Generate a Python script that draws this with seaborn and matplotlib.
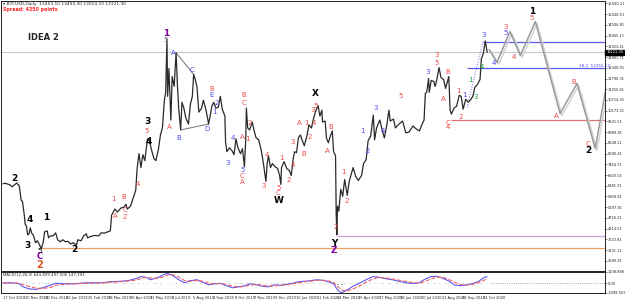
import matplotlib
matplotlib.use("Agg")
import matplotlib.pyplot as plt
import matplotlib.patheffects as pe
import matplotlib.transforms as mtrans
import pandas as pd
import seaborn as sns

sns.set_style("white")
plt.rcParams['font.family'] = ['DejaVu Sans']

start = pd.Timestamp('2018-10-17')

# BTCUSD daily, closes
price_dates = [
    '2018-10-17', '2018-10-20', '2018-10-24', '2018-10-28', '2018-10-31', '2018-11-03', '2018-11-07',
    '2018-11-11', '2018-11-14', '2018-11-16', '2018-11-19', '2018-11-20', '2018-11-22', '2018-11-24',
    '2018-11-26', '2018-11-28', '2018-11-30', '2018-12-03', '2018-12-06', '2018-12-09', '2018-12-12',
    '2018-12-15', '2018-12-18', '2018-12-20', '2018-12-24', '2018-12-26', '2018-12-29', '2019-01-02',
    '2019-01-06', '2019-01-09', '2019-01-13', '2019-01-17', '2019-01-21', '2019-01-25', '2019-01-29',
    '2019-02-02', '2019-02-07', '2019-02-09', '2019-02-14', '2019-02-18', '2019-02-22', '2019-02-24',
    '2019-03-01', '2019-03-07', '2019-03-13', '2019-03-17', '2019-03-22', '2019-03-27', '2019-03-31',
    '2019-04-02', '2019-04-07', '2019-04-11', '2019-04-16', '2019-04-21', '2019-04-24', '2019-04-26',
    '2019-05-01', '2019-05-05', '2019-05-09', '2019-05-11', '2019-05-14', '2019-05-17', '2019-05-20',
    '2019-05-23', '2019-05-27', '2019-05-30', '2019-06-03', '2019-06-06', '2019-06-09', '2019-06-13',
    '2019-06-16', '2019-06-19', '2019-06-22', '2019-06-24', '2019-06-26', '2019-06-27', '2019-06-29',
    '2019-07-02', '2019-07-04', '2019-07-07', '2019-07-10', '2019-07-12', '2019-07-14', '2019-07-17',
    '2019-07-19', '2019-07-22', '2019-07-25', '2019-07-29', '2019-08-01', '2019-08-04', '2019-08-06',
    '2019-08-08', '2019-08-11', '2019-08-14', '2019-08-18', '2019-08-21', '2019-08-25', '2019-08-29',
    '2019-09-03', '2019-09-06', '2019-09-09', '2019-09-13', '2019-09-16', '2019-09-19', '2019-09-23',
    '2019-09-24', '2019-09-26', '2019-09-30', '2019-10-04', '2019-10-07', '2019-10-10', '2019-10-13',
    '2019-10-17', '2019-10-20', '2019-10-23', '2019-10-25', '2019-10-26', '2019-10-28', '2019-10-31',
    '2019-11-04', '2019-11-07', '2019-11-10', '2019-11-14', '2019-11-18', '2019-11-21', '2019-11-25',
    '2019-11-27', '2019-11-29', '2019-12-02', '2019-12-05', '2019-12-09', '2019-12-13', '2019-12-16',
    '2019-12-18', '2019-12-19', '2019-12-23', '2019-12-27', '2019-12-31', '2020-01-03', '2020-01-06',
    '2020-01-08', '2020-01-11', '2020-01-14', '2020-01-17', '2020-01-20', '2020-01-23', '2020-01-27',
    '2020-01-30', '2020-02-03', '2020-02-06', '2020-02-09', '2020-02-13', '2020-02-16', '2020-02-19',
    '2020-02-20', '2020-02-24', '2020-02-26', '2020-02-29', '2020-03-03', '2020-03-06', '2020-03-08',
    '2020-03-11', '2020-03-12', '2020-03-13', '2020-03-14', '2020-03-16', '2020-03-19', '2020-03-22',
    '2020-03-25', '2020-03-29', '2020-04-01', '2020-04-07', '2020-04-11', '2020-04-15', '2020-04-20',
    '2020-04-23', '2020-04-27', '2020-04-30', '2020-05-04', '2020-05-08', '2020-05-10', '2020-05-13',
    '2020-05-18', '2020-05-22', '2020-05-25', '2020-05-29', '2020-06-01', '2020-06-03', '2020-06-08',
    '2020-06-11', '2020-06-15', '2020-06-22', '2020-06-27', '2020-07-02', '2020-07-08', '2020-07-13',
    '2020-07-18', '2020-07-22', '2020-07-25', '2020-07-27', '2020-07-29', '2020-08-01', '2020-08-02',
    '2020-08-05', '2020-08-09', '2020-08-11', '2020-08-14', '2020-08-17', '2020-08-20', '2020-08-24',
    '2020-08-27', '2020-09-01', '2020-09-03', '2020-09-05', '2020-09-09', '2020-09-13', '2020-09-17',
    '2020-09-20', '2020-09-23', '2020-09-27', '2020-10-01', '2020-10-05', '2020-10-08', '2020-10-11',
    '2020-10-15', '2020-10-19', '2020-10-21', '2020-10-24', '2020-10-27', '2020-10-30']
price_close = [
    6480, 6510, 6470, 6420, 6330, 6400, 6520,
    6380, 5650, 5580, 4850, 4450, 4350, 3900,
    3950, 4250, 4000, 3850, 3500, 3600, 3400,
    3200, 3550, 4050, 4100, 3750, 3850, 3850,
    4000, 3650, 3550, 3650, 3550, 3570, 3440,
    3500, 3380, 3650, 3600, 3850, 3950, 3750,
    3820, 3870, 3850, 4000, 3990, 4050, 4100,
    4900, 5200, 5050, 5250, 5300, 5450, 5200,
    5350, 5750, 6150, 7200, 8000, 7300, 7950,
    7650, 8750, 8650, 8100, 7750, 7650, 8250,
    8950, 9300, 10700, 11100, 13800, 10900, 12300,
    9700, 11900, 11400, 13100, 11500, 10300, 9200,
    10600, 10300, 9800, 9500, 10500, 10900, 12000,
    11800, 11400, 10100, 10300, 10700, 10200, 9500,
    10400, 10600, 10300, 10350, 10900, 10250, 9900,
    8600, 8100, 8300, 8150, 7950, 8750, 8300,
    8000, 8250, 7350, 8700, 10300, 9300, 9200,
    9600, 9150, 8800, 8700, 8150, 7550, 6600,
    7500, 7900, 7300, 7500, 7350, 7250, 6900,
    6450, 7300, 7600, 7250, 7150, 6900, 7750,
    8100, 8050, 8800, 8950, 8650, 8400, 8900,
    9450, 9300, 9750, 10100, 10450, 9900, 10200,
    9600, 9650, 8800, 8550, 8900, 9150, 8100,
    7900, 4950, 3900, 5350, 5100, 6200, 5850,
    6700, 5900, 6600, 7300, 6850, 6650, 6900,
    7500, 7700, 8650, 8900, 9950, 8700, 9300,
    9700, 9150, 8800, 9500, 10200, 9650, 9750,
    9300, 9450, 9650, 9050, 9100, 9400, 9250,
    9150, 9500, 9700, 11050, 11100, 11800, 11100,
    11700, 11650, 11400, 11800, 12350, 11850, 11750,
    11300, 11900, 10200, 10000, 10300, 10400, 10950,
    10900, 10250, 10750, 10600, 10750, 10900, 11350,
    11500, 11750, 12800, 13050, 13700, 13121.30]

# projected wave path (grey arrows)
proj_dates = ['2020-11-02', '2020-11-14', '2020-12-04', '2020-12-20', '2021-01-12',
              '2021-02-19', '2021-03-17', '2021-04-14', '2021-05-21']
proj_price = [13265, 12608, 14175, 12962, 14680, 10031, 11547, 8263, 15084]

# triangle lines A-C and B-D, blue dotted channel
tri_ac_dates = ['2019-07-10', '2019-08-06']
tri_ac_price = [13100, 12000]
tri_bd_dates = ['2019-07-17', '2019-08-29']
tri_bd_price = [9200, 9500]
chan_dates = ['2020-09-29', '2020-10-24']
chan_price = [10334, 13720]

# horizontal levels: (start date, price, colour)
levels = [('2018-12-14', 3210, '#f0a060'),
          ('2020-03-13', 3866, '#c8a0e0'),
          ('2020-10-24', 13669, '#5a5af0'),
          ('2020-09-29', 12355, '#5a5af0'),
          ('2020-09-05', 9728, '#e07070')]
bid_price = 13121.30

# wave labels: (day offset from start, price, text, colour, size)
wave_labels = [
    (18, 6750, '2', 'k', 6.5), (41, 4675, '4', 'k', 6.5), (37, 3361, '3', 'k', 6.5),
    (66, 4776, '1', 'k', 6.5), (109, 3159, '2', 'k', 6.5), (222, 9650, '3', 'k', 6.5),
    (224, 8616, '4', 'k', 6.5), (480, 11042, 'X', 'k', 6.5), (423, 5650, 'W', 'k', 6.5),
    (509, 3462, 'Y', 'k', 6.5), (813, 15185, '1', 'k', 6.5), (899, 8161, '2', 'k', 6.5),
    (250, 14074, '1', '#8000a0', 6.5), (57, 2800, 'C', '#8000a0', 6), (509, 3108, 'Z', '#8000a0', 6.5),
    (57, 2360, '2', '#e05020', 7), (57, 3060, '5', 'k', 5), (250, 13770, '5', '#808080', 5),
    (221, 9150, '5', 'r', 5), (170, 5686, '1', 'r', 5), (173, 4877, 'A', 'r', 5),
    (186, 5837, 'B', 'r', 5), (187, 5130, 'C', 'r', 5), (187, 4826, '2', 'r', 5),
    (207, 6494, '4', 'r', 5), (255, 9374, 'A', 'r', 5), (321, 11294, 'B', 'r', 5),
    (370, 10941, 'B', 'r', 5), (370, 10587, 'C', 'r', 5), (368, 6898, 'C', 'r', 5),
    (368, 6595, 'A', 'r', 5), (368, 8869, 'A', 'r', 5), (376, 8768, '1', 'r', 5),
    (379, 9576, '2', 'r', 5), (400, 6343, '3', 'r', 5), (405, 7959, '4', 'r', 5),
    (423, 6292, '5', 'r', 5), (423, 6039, 'C', 'r', 5), (428, 7808, '1', 'r', 5),
    (439, 6696, '2', 'r', 5), (445, 8566, '3', 'r', 5), (446, 7454, '4', 'r', 5),
    (456, 9526, 'A', 'r', 5), (462, 8010, 'B', 'r', 5), (466, 9576, '1', 'r', 5),
    (471, 8869, '2', 'r', 5), (476, 10183, '3', 'r', 5), (477, 9526, '4', 'r', 5),
    (480, 10435, '5', 'r', 5), (499, 8161, 'A', 'r', 5), (503, 9324, 'B', 'r', 5),
    (512, 4321, '2', 'r', 5), (523, 7100, '1', 'r', 5), (528, 5635, '2', 'r', 5),
    (667, 12962, '3', 'r', 5), (667, 12608, '5', 'r', 5), (683, 12103, 'B', 'r', 5),
    (677, 10789, 'A', 'r', 5), (684, 9576, 'C', 'r', 5), (684, 9324, '4', 'r', 5),
    (700, 11193, '1', 'r', 5), (704, 9879, '2', 'r', 5), (773, 14377, '3', 'r', 5),
    (785, 12911, '4', 'r', 5), (813, 14882, '5', 'r', 5), (850, 9930, 'A', 'r', 5),
    (877, 11598, 'B', 'r', 5), (899, 8465, 'C', 'r', 5),
    (262, 13113, 'A', 'b', 5), (270, 8818, 'B', 'b', 5), (291, 12254, 'C', 'b', 5),
    (314, 9223, 'D', 'b', 5), (321, 10941, 'E', 'b', 5), (325, 10132, '1', 'b', 5),
    (328, 10537, '2', 'b', 5), (345, 7555, '3', 'b', 5), (354, 8818, '4', 'b', 5),
    (368, 7201, '5', 'b', 5), (652, 12103, '3', 'b', 5), (709, 10991, '1', 'b', 5),
    (739, 13973, '3', 'b', 5), (755, 12558, '4', 'b', 5), (773, 14124, '5', 'b', 5),
    (552, 9122, '1', 'b', 5), (560, 8161, '2', 'b', 5), (572, 10284, '3', 'b', 5),
    (583, 9172, '4', 'b', 5), (611, 10900, '5', 'r', 5),
    (718, 11699, '1', 'g', 5), (727, 10890, '3', 'g', 5), (736, 12406, '4', 'g', 5)]
label_colors = {'k': 'black', 'r': '#f04848', 'b': '#4a4af0', 'g': '#20a040'}

# MACD panel, values
macd_days = [0, 12, 25, 31, 40, 51, 61, 74, 81, 97, 112, 127, 150, 166, 181, 192, 204, 212, 219, 227,
             238, 247, 253, 261, 270, 279, 288, 298, 307, 316, 325, 334, 344, 353, 362, 371, 380, 390, 399, 408,
             417, 426, 436, 445, 454, 463, 473, 482, 491, 500, 508, 514, 520, 529, 539, 549, 558, 568, 577, 588,
             598, 611, 626, 638, 647, 657, 666, 675, 684, 693, 703, 712, 721, 730, 739, 744]
macd_main = [30, 60, -40, -360, -580, -630, -470, -150, 0, -40, -40, 60, 60, 170, 220, 280, 490, 700, 650, 380,
             600, 920, 1030, 810, 380, 60, 280, 380, 110, -150, -40, 0, -260, -470, -360, -260, -40, -150, -310, -360,
             -150, -210, -100, 0, 170, 220, 280, 380, 320, 170, -40, -680, -1000, -680, -260, 60, 380, 700, 650, 490,
             380, 170, 0, 0, 380, 700, 750, 540, 280, -150, -260, -150, -40, 170, 600, 700]
macd_signal = [20, 40, 20, -120, -330, -500, -540, -400, -200, -80, -40, 0, 40, 110, 180, 240, 330, 500, 620, 560,
               520, 700, 880, 900, 650, 300, 200, 300, 220, 20, -60, -20, -110, -300, -380, -320, -180, -120, -200, -300,
               -260, -220, -160, -60, 60, 160, 230, 310, 330, 250, 110, -300, -700, -800, -560, -220, 120, 450, 620, 580,
               460, 300, 120, 20, 150, 450, 650, 640, 450, 120, -120, -180, -110, 50, 320, 480]
macd_hist = [5, 10, -25, -95, -100, -55, 30, 100, 80, 15, 0, 25, 10, 25, 15, 15, 65, 80, 10, -70,
             30, 90, 60, -35, -110, -95, 30, 30, -45, -70, 10, 10, -60, -70, 10, 25, 55, -10, -45, -25,
             45, 5, 25, 25, 45, 25, 20, 30, 0, -35, -60, -150, -120, 50, 120, 110, 100, 100, 10, -35,
             -30, -50, -50, -10, 90, 100, 40, -40, -70, -110, -55, 10, 30, 50, 110, 90]

date_ticks = ['2018-10-17', '2018-11-20', '2018-12-20', '2019-01-22', '2019-02-25', '2019-03-28',
              '2019-04-30', '2019-05-31', '2019-07-03', '2019-08-05', '2019-09-04', '2019-10-08',
              '2019-11-07', '2019-12-09', '2020-01-10', '2020-02-11', '2020-03-14', '2020-04-15',
              '2020-05-17', '2020-06-18', '2020-07-20', '2020-08-21', '2020-09-22', '2020-10-24']
price_ticks = [2589.41 + 541.70 * k for k in range(25)]
macd_ticks = [-1008.503, 0.0, 1238.888]

# figure: main chart + MACD strip, price scale on the right
fig = plt.figure(figsize=(6.25, 3.01), dpi=100)
ax = fig.add_axes([0.0016, 30 / 301, 604 / 625, 270.5 / 301])
mx = fig.add_axes([0.0016, 8 / 301, 604 / 625, 21.5 / 301], sharex=ax)

xmin, xmax = pd.Timestamp('2018-10-14'), pd.Timestamp('2021-04-29')

for lv_start, lv_price, lv_col in levels:
    ax.hlines(lv_price, pd.Timestamp(lv_start), xmax, color=lv_col, lw=0.9, zorder=1)
ax.axhline(bid_price, color='#c8c8c8', lw=0.8, zorder=1)

df = pd.DataFrame({'date': pd.to_datetime(price_dates), 'close': price_close})
sns.lineplot(data=df, x='date', y='close', ax=ax, color='#2a2a2a', lw=0.9,
             sort=False, estimator=None, zorder=3)

pj = pd.DataFrame({'date': pd.to_datetime(proj_dates), 'price': proj_price})
sns.lineplot(data=pj, x='date', y='price', ax=ax, color='#9a9a9a', lw=1.1,
             sort=False, estimator=None, zorder=3)
ax.lines[-1].set_path_effects([pe.SimpleLineShadow(offset=(1.3, -1.3), shadow_color='#d4d4d4', alpha=1),
                               pe.Normal()])

ax.plot(pd.to_datetime(tri_ac_dates), tri_ac_price, color='#707070', lw=0.7, zorder=2)
ax.plot(pd.to_datetime(tri_bd_dates), tri_bd_price, color='#707070', lw=0.7, zorder=2)
ax.plot(pd.to_datetime(chan_dates), chan_price, color='#6a6af0', lw=0.7, ls=':', zorder=2)

for d, p, txt, col, fs in wave_labels:
    ax.text(start + pd.Timedelta(days=d), p, txt, color=label_colors.get(col, col), fontsize=fs,
            ha='center', va='center', fontweight='bold' if fs > 5.5 else 'normal', zorder=4)

ax.text(pd.Timestamp('2021-03-20'), 12420, '38.2  12355.57', color='#4a4af0', fontsize=3.0,
        ha='left', va='center', zorder=4)
ax.text(0.045, 0.865, 'IDEA 2', transform=ax.transAxes, fontsize=6, fontweight='bold', va='center')
ax.text(0.004, 0.995, '\u25be BTCUSD,Daily  13453.10 13493.30 13014.10 13121.30', transform=ax.transAxes,
        fontsize=3.2, va='top')
ax.text(0.004, 0.975, 'Spread: 4250 points', transform=ax.transAxes, fontsize=3.4,
        color='#ff2020', fontweight='bold', va='top')

ax.set_ylim(2073, 15741)
ax.set_xlim(xmin, xmax)
ax.set_xlabel('')
ax.set_ylabel('')
ax.yaxis.tick_right()
ax.set_yticks(price_ticks)
ax.set_yticklabels([f'{t:.2f}' for t in price_ticks])
ax.tick_params(axis='y', labelsize=2.6, length=1.5, width=0.4, pad=0.6, direction='out')
ax.tick_params(axis='x', labelbottom=False, length=0)
trans = mtrans.blended_transform_factory(ax.transAxes, ax.transData)
ax.text(1.002, bid_price, f'{bid_price:.2f}', transform=trans, fontsize=2.6, color='white', va='center',
        ha='left', bbox=dict(boxstyle='square,pad=0.2', fc='black', ec='black'), zorder=5)

# MACD
md = pd.DataFrame({'date': [start + pd.Timedelta(days=d) for d in macd_days],
                   'main': macd_main, 'signal': macd_signal, 'hist': macd_hist})
mx.axhline(0, color='#909090', lw=0.6, ls=':')
mx.bar(md['date'], md['hist'], width=5, color='#108010', zorder=2)
sns.lineplot(data=md, x='date', y='main', ax=mx, color='#5a5af5', lw=0.8, sort=False, estimator=None, zorder=3)
sns.lineplot(data=md, x='date', y='signal', ax=mx, color='#f06060', lw=0.8, ls='--', sort=False,
             estimator=None, zorder=3)
mx.text(0.004, 0.93, 'MACD(12,26,9) 644.899 497.506 147.393', transform=mx.transAxes, fontsize=2.8, va='top')
mx.set_ylim(-1008.503, 1238.888)
mx.set_xlim(xmin, xmax)
mx.set_xlabel('')
mx.set_ylabel('')
mx.yaxis.tick_right()
mx.set_yticks(macd_ticks)
mx.set_yticklabels(['-1008.503', '0.00', '1238.888'])
mx.tick_params(axis='y', labelsize=2.6, length=1.5, width=0.4, pad=0.6)
tick_dates = pd.to_datetime(date_ticks)
mx.set_xticks(tick_dates)
mx.set_xticklabels([f'{t.day} {t:%b %Y}' for t in tick_dates], ha='left')
mx.tick_params(axis='x', labelsize=2.6, length=1.5, width=0.4, pad=0.8)

for a in (ax, mx):
    for s in a.spines.values():
        s.set_linewidth(0.6)
        s.set_color('black')

fig.savefig('out.png', dpi=100)
